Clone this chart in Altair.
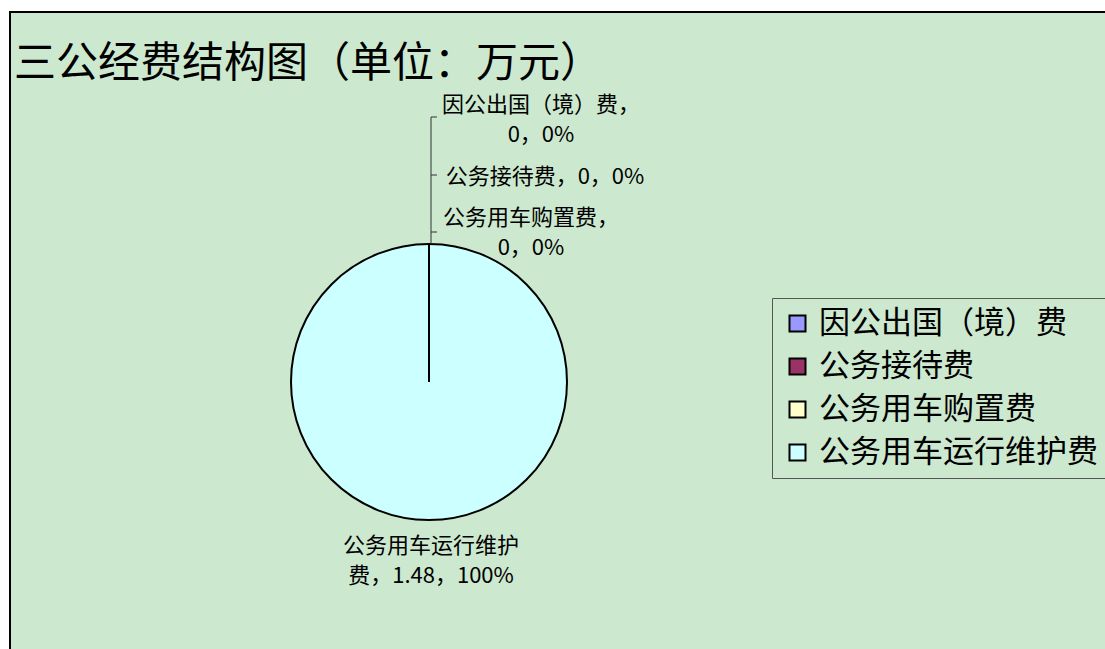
import altair as alt
import pandas as pd

# ---- data ----
categories = ["因公出国（境）费", "公务接待费", "公务用车购置费", "公务用车运行维护费"]
values = [0, 0, 0, 1.48]
colors = ["#9999FF", "#993366", "#FFFFCC", "#CCFFFF"]
title_text = "三公经费结构图（单位：万元）"

# ---- layout (pixels) ----
W, H = 1105, 649
BG = "#CCE8CF"
FONT = "Noto Sans CJK SC"
pie_cx, pie_cy, pie_r = 429, 382, 138
label_x = [541, 545, 531, 431]
label_y = [105, 177, 218, 546]
label_breaks = [True, False, True, "cjk"]

total = sum(values)

def fmt(v):
    return f"{v:g}"

labels = []
for c, v, br in zip(categories, values, label_breaks):
    pct = f"{round(v / total * 100)}%"
    if br is True:
        labels.append(f"{c}，\n{fmt(v)}，{pct}")
    elif br == "cjk":
        labels.append(f"{c[:-1]}\n{c[-1]}，{fmt(v)}，{pct}")
    else:
        labels.append(f"{c}，{fmt(v)}，{pct}")

df = pd.DataFrame({
    "category": categories,
    "value": values,
    "idx": list(range(len(categories))),
    "label": labels,
    "lx": label_x,
    "ly": label_y,
})

color_scale = alt.Scale(domain=categories, range=colors)

frame = alt.Chart(pd.DataFrame({"a": [0]})).mark_rect(
    fill=BG, stroke="black", strokeWidth=2
).encode(
    x=alt.value(10), x2=alt.value(W + 10), y=alt.value(12), y2=alt.value(H + 10)
)

title = alt.Chart(pd.DataFrame({"t": [title_text]})).mark_text(
    align="left", baseline="middle", font=FONT, fontSize=42, color="black"
).encode(x=alt.value(14), y=alt.value(64), text="t:N")

pie = alt.Chart(df).mark_arc(
    stroke="black", strokeWidth=2, radius=pie_r
).encode(
    theta=alt.Theta("value:Q", stack=True),
    order=alt.Order("idx:Q"),
    color=alt.Color(
        "category:N", scale=color_scale, sort=categories,
        legend=alt.Legend(
            title=None, orient="none", legendX=772, legendY=298,
            fillColor=BG, strokeColor="#555555", padding=10,
            symbolType="square", symbolSize=256, symbolStrokeColor="black",
            symbolStrokeWidth=2, labelFont=FONT, labelFontSize=31,
            labelColor="black", labelOffset=6, rowPadding=11,
            labelLimit=400,
        ),
    ),
    x=alt.value(pie_cx), y=alt.value(pie_cy),
)

# boundary of the zero-size slices at 12 o'clock
radial = alt.Chart(pd.DataFrame({"a": [0]})).mark_rule(color="black", strokeWidth=2).encode(
    x=alt.value(pie_cx), y=alt.value(pie_cy), y2=alt.value(pie_cy - pie_r)
)

# leader bracket for the zero slices
leader_ys = [117, 175, 232]
leader_df = pd.DataFrame({"y": leader_ys})
leader_v = alt.Chart(pd.DataFrame({"a": [0]})).mark_rule(color="#333333", strokeWidth=1).encode(
    x=alt.value(431), y=alt.value(leader_ys[0]), y2=alt.value(pie_cy - pie_r)
)
leader_t = alt.Chart(leader_df).mark_rule(color="#333333", strokeWidth=1).encode(
    x=alt.value(431), x2=alt.value(437), y=alt.Y("y:Q", scale=None)
)

text = alt.Chart(df).mark_text(
    align="center", baseline="middle", font=FONT, fontSize=22,
    lineBreak="\n", lineHeight=30, color="black"
).encode(
    x=alt.X("lx:Q", scale=None), y=alt.Y("ly:Q", scale=None), text="label:N"
)

chart = alt.layer(frame, title, pie, radial, leader_v, leader_t, text).properties(
    width=W, height=H, padding=0, autosize=alt.AutoSizeParams(type="none"),
    background="white",
).configure_view(stroke=None)

chart.save("out.html", embed_options={"renderer": "svg", "actions": False})
